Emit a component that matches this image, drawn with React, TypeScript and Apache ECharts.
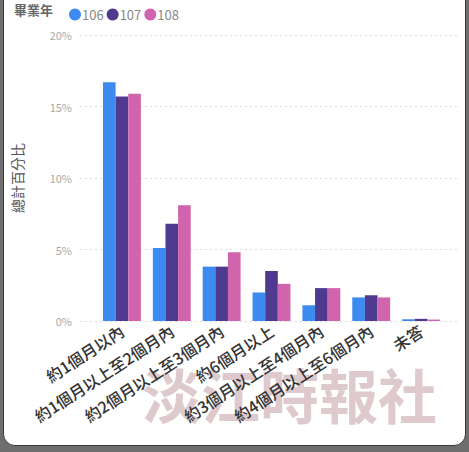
import React, { useEffect, useRef } from "react";
import * as echarts from "echarts";

const categories = [
  "約1個月以內",
  "約1個月以上至2個月內",
  "約2個月以上至3個月內",
  "約6個月以上",
  "約3個月以上至4個月內",
  "約4個月以上至6個月內",
  "未答",
];
const seriesNames = ["106", "107", "108"];
const values106 = [16.7, 5.1, 3.8, 2.0, 1.1, 1.65, 0.12];
const values107 = [15.7, 6.8, 3.8, 3.5, 2.3, 1.8, 0.15];
const values108 = [15.9, 8.1, 4.8, 2.6, 2.3, 1.65, 0.1];
const colors = ["#3d8af0", "#4e3a8e", "#d065ad"];
const yTicks = [0, 5, 10, 15, 20];

const FONT = '"Noto Sans CJK TC", "Noto Sans", sans-serif';

export default function App() {
  const ref = useRef<HTMLDivElement>(null);
  useEffect(() => {
    if (!ref.current) return;
    const chart = echarts.init(ref.current, undefined, { renderer: "svg" });
    const allValues = [values106, values107, values108];
    chart.setOption({
      animation: false,
      textStyle: { fontFamily: FONT },
      color: colors,
      legend: {
        left: 64,
        top: 3,
        icon: "circle",
        itemWidth: 12,
        itemHeight: 12,
        itemGap: 3,
        data: seriesNames,
        textStyle: { color: "#888", fontSize: 13, fontFamily: FONT, padding: [0, 0, 0, -4] },
      },
      graphic: [
        {
          type: "text",
          left: 14,
          top: 3,
          style: { text: "畢業年", fill: "#666", fontSize: 13, fontWeight: "bold", fontFamily: FONT },
        },
        {
          type: "text",
          left: 142,
          top: 364,
          z: -10,
          style: {
            text: "淡江時報社",
            fill: "rgba(190,150,155,0.5)",
            fontSize: 59,
            fontWeight: "bold",
            fontFamily: FONT,
          },
        },
      ],
      grid: [
        { left: 97, right: 23, top: 35, bottom: 131 },
        { left: 80, right: 9, top: 35, bottom: 131 },
      ],
      xAxis: [
        {
          type: "category",
          gridIndex: 0,
          data: categories,
          axisLine: { show: false },
          axisTick: { show: false },
          axisLabel: {
            rotate: 33,
            interval: 0,
            margin: 8,
            fontSize: 16,
            fontWeight: 500,
            color: "#333",
            fontFamily: FONT,
          },
        },
        {
          type: "value",
          gridIndex: 1,
          show: false,
        },
      ],
      yAxis: [
        {
          type: "value",
          gridIndex: 0,
          min: yTicks[0],
          max: yTicks[yTicks.length - 1],
          interval: 5,
          show: false,
        },
        {
          type: "value",
          gridIndex: 1,
          min: yTicks[0],
          max: yTicks[yTicks.length - 1],
          interval: 5,
          name: "總計百分比",
          nameLocation: "middle",
          nameGap: 56,
          nameTextStyle: { fontSize: 14, color: "#555", fontFamily: FONT },
          axisLine: { show: false },
          axisTick: { show: false },
          axisLabel: {
            formatter: "{value}%",
            margin: 8,
            fontSize: 11,
            color: "#aaa",
            fontFamily: FONT,
          },
          splitLine: { lineStyle: { type: [2, 3], color: "#ddd", width: 1 } },
        },
      ],
      series: seriesNames.map((name, i) => ({
        name,
        type: "bar",
        xAxisIndex: 0,
        yAxisIndex: 0,
        data: allValues[i],
        barGap: "0%",
        barCategoryGap: "24%",
        itemStyle: { color: colors[i] },
      })),
    });
    return () => chart.dispose();
  }, []);

  return (
    <div
      style={{
        position: "fixed",
        left: 0,
        top: 0,
        width: 469,
        height: 452,
        background: "#6e6e6e",
        overflow: "hidden",
      }}
    >
      <div
        style={{
          position: "absolute",
          left: 3,
          top: -14,
          width: 463,
          height: 460,
          boxSizing: "border-box",
          background: "#fff",
          border: "1px solid #3a3a3a",
          borderRadius: 12,
        }}
      />
      <div ref={ref} style={{ position: "absolute", left: 0, top: 0, width: 469, height: 452 }} />
    </div>
  );
}
